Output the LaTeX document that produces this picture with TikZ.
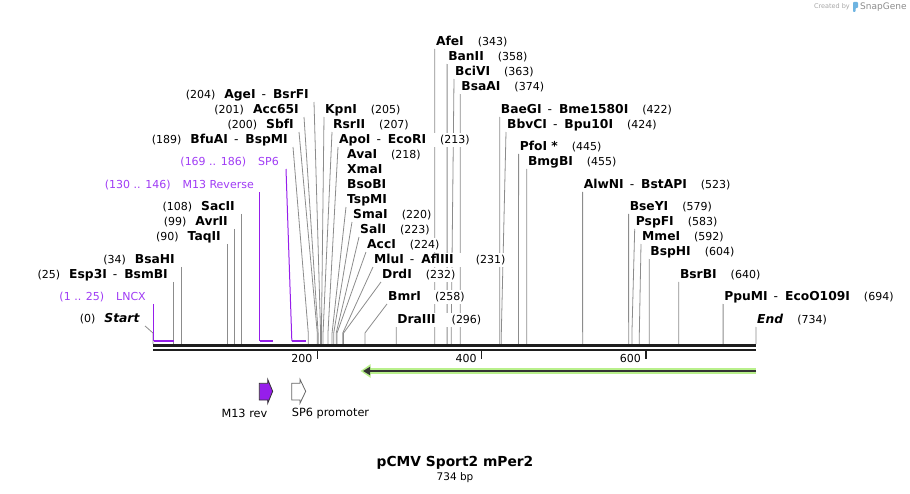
\documentclass[tikz,border=0pt]{standalone}
\usepackage{fontspec}
\setmainfont{DejaVu Sans}
\usetikzlibrary{arrows.meta,backgrounds}

\definecolor{primer}{RGB}{160,60,245}
\definecolor{primerdark}{RGB}{150,30,235}
\definecolor{orfhalo}{RGB}{185,240,140}
\definecolor{spine}{RGB}{30,30,30}
\definecolor{snapblue}{RGB}{110,180,225}

\newcommand{\pos}[1]{{\mdseries\fontsize{11}{12}\selectfont(#1)}}
\newcommand{\alt}{\hspace{6pt}{\mdseries-}\hspace{7pt}}
\newcommand{\site}[2]{%
  \coordinate (#1) at ({153+0.8215*#2},344);
  \coordinate (#1k) at ({153+0.8215*#2},333);}
\newcommand{\psite}[2]{\coordinate (#1) at ({153+0.8215*#2},341);}

\tikzset{
  enz/.style={
    font=\fontsize{12.3}{13}\selectfont\bfseries,
    fill=white,
    inner ysep=1pt,
    text height=9pt,
    text depth=2.5pt
  },
  lft/.style={enz, anchor=east, inner xsep=5pt},
  rgt/.style={enz, anchor=west, inner xsep=1pt},
  plbl/.style={
    lft,
    font=\fontsize{11}{13}\selectfont,
    text=primer,
    inner xsep=7pt
  },
  cut/.style={draw=black!45, line width=0.8pt},
  primerline/.style={draw=primerdark, line width=1pt},
  primerbar/.style={draw=primerdark, line width=2pt},
  spine/.style={draw=spine, line width=2.5pt},
  tick/.style={draw=spine, line width=1.5pt},
  scalelbl/.style={anchor=east, font=\fontsize{11}{13}\selectfont, inner sep=1pt},
  featlbl/.style={font=\fontsize{11.3}{13}\selectfont, inner sep=1pt},
  orf/.style={draw=orfhalo, line width=6pt, -{Triangle[length=10pt,width=13pt]}},
  orfcore/.style={draw=black!80, line width=2.2pt, -{Triangle[length=7pt,width=8pt]}}
}

\begin{document}
\begin{tikzpicture}[x=1pt,y=-1pt]
  \useasboundingbox (0,0) rectangle (910,494);

  % cut sites on the backbone
  \site{s0}{0}     \site{s25}{25}   \site{s34}{34}   \site{s90}{90}
  \site{s99}{99}   \site{s108}{108} \site{s189}{189} \site{s200}{200}
  \site{s201}{201} \site{s204}{204} \site{s205}{205} \site{s207}{207}
  \site{s213}{213} \site{s218}{218} \site{s220}{220} \site{s223}{223}
  \site{s224}{224} \site{s231}{231} \site{s232}{232} \site{s258}{258}
  \site{s296}{296} \site{s343}{343} \site{s358}{358} \site{s363}{363}
  \site{s374}{374} \site{s422}{422} \site{s424}{424} \site{s445}{445}
  \site{s455}{455} \site{s523}{523} \site{s579}{579} \site{s583}{583}
  \site{s592}{592} \site{s604}{604} \site{s640}{640} \site{s694}{694}
  \site{s734}{734}

  % primer ends
  \psite{p1}{1}     \psite{p25}{25}
  \psite{p130}{130} \psite{p146}{146}
  \psite{p169}{169} \psite{p186}{186}

  % labels left of their lines
  \node[lft] (agei)   at (314,95)  {\pos{204}\hspace{9pt}AgeI\alt BsrFI};
  \node[lft] (acc65i) at (304,110) {\pos{201}\hspace{9pt}Acc65I};
  \node[lft] (sbfi)   at (299,125) {\pos{200}\hspace{9pt}SbfI};
  \node[lft] (bfuai)  at (293,140) {\pos{189}\hspace{9pt}BfuAI\alt BspMI};
  \node[lft] (sacii)  at (240,207) {\pos{108}\hspace{9pt}SacII};
  \node[lft] (avrii)  at (233,222) {\pos{99}\hspace{9pt}AvrII};
  \node[lft] (taqii)  at (226,237) {\pos{90}\hspace{9pt}TaqII};
  \node[lft] (bsahi)  at (180,260) {\pos{34}\hspace{9pt}BsaHI};
  \node[lft] (esp3i)  at (173,275) {\pos{25}\hspace{9pt}Esp3I\alt BsmBI};
  \node[lft] (start)  at (145,319) {\pos{0}\hspace{9pt}\textit{Start}};

  % primers
  \node[plbl] (sp6)  at (286,162) {(169 .. 186)\hspace{12pt}SP6};
  \node[plbl] (m13r) at (261,185) {(130 .. 146)\hspace{12pt}M13 Reverse};
  \node[plbl] (lncx) at (153,297) {(1 .. 25)\hspace{12pt}LNCX};

  % labels right of their lines
  \node[rgt] (kpni)   at (324,110)   {KpnI\hspace{14pt}\pos{205}};
  \node[rgt] (rsrii)  at (332,125)   {RsrII\hspace{14pt}\pos{207}};
  \node[rgt] (apoi)   at (338,140)   {ApoI\alt EcoRI\hspace{14pt}\pos{213}};
  \node[rgt] (avai)   at (346,155)   {AvaI\hspace{14pt}\pos{218}};
  \node[rgt] (xmai)   at (346,170)   {XmaI};
  \node[rgt] (bsobi)  at (346,185)   {BsoBI};
  \node[rgt] (tspmi)  at (346,200)   {TspMI};
  \node[rgt] (smai)   at (352,215)   {SmaI\hspace{14pt}\pos{220}};
  \node[rgt] (sali)   at (359,230)   {SalI\hspace{14pt}\pos{223}};
  \node[rgt] (acci)   at (366,245)   {AccI\hspace{14pt}\pos{224}};
  \node[rgt] (mlui)   at (373,260)   {MluI\alt AflIII\hspace{22pt}\pos{231}};
  \node[rgt] (drdi)   at (381,275)   {DrdI\hspace{14pt}\pos{232}};
  \node[rgt] (bmri)   at (387,297)   {BmrI\hspace{14pt}\pos{258}};
  \node[rgt] (draiii) at (396.2,320) {DraIII\hspace{16pt}\pos{296}};
  \node[rgt] (afei)   at (434.8,42)  {AfeI\hspace{14pt}\pos{343}};
  \node[rgt] (banii)  at (447.1,57)  {BanII\hspace{14pt}\pos{358}};
  \node[rgt] (bcivi)  at (454,72)    {BciVI\hspace{14pt}\pos{363}};
  \node[rgt] (bsaai)  at (460.2,87)  {BsaAI\hspace{14pt}\pos{374}};
  \node[rgt] (baegi)  at (499.7,110) {BaeGI\alt Bme1580I\hspace{14pt}\pos{422}};
  \node[rgt] (bbvci)  at (506,125)   {BbvCI\alt Bpu10I\hspace{14pt}\pos{424}};
  \node[rgt] (pfoi)   at (518.6,147) {PfoI *\hspace{14pt}\pos{445}};
  \node[rgt] (bmgbi)  at (526.8,162) {BmgBI\hspace{14pt}\pos{455}};
  \node[rgt] (alwni)  at (582.6,185) {AlwNI\alt BstAPI\hspace{14pt}\pos{523}};
  \node[rgt] (bseyi)  at (628.6,207) {BseYI\hspace{14pt}\pos{579}};
  \node[rgt] (pspfi)  at (634.7,222) {PspFI\hspace{14pt}\pos{583}};
  \node[rgt] (mmei)   at (641,237)   {MmeI\hspace{14pt}\pos{592}};
  \node[rgt] (bsphi)  at (649.2,252) {BspHI\hspace{14pt}\pos{604}};
  \node[rgt] (bsrbi)  at (678.8,275) {BsrBI\hspace{14pt}\pos{640}};
  \node[rgt] (ppumi)  at (723.1,297) {PpuMI\alt EcoO109I\hspace{14pt}\pos{694}};
  \node[rgt] (endl)   at (756,320)   {\textit{End}\hspace{14pt}\pos{734}};

  % lines from labels to sites
  \begin{scope}[on background layer]
    \draw[cut] (agei.south east) -- (s204k) -- (s204);
    \draw[cut] (acc65i.south east) -- (s201k) -- (s201);
    \draw[cut] (sbfi.south east) -- (s200k) -- (s200);
    \draw[cut] (bfuai.south east) -- (s189k) -- (s189);
    \draw[cut] (s108 |- sacii.south east) -- (s108);
    \draw[cut] (s99 |- avrii.south east) -- (s99);
    \draw[cut] (s90 |- taqii.south east) -- (s90);
    \draw[cut] (s34 |- bsahi.south east) -- (s34);
    \draw[cut] (s25 |- esp3i.south east) -- (s25);
    \draw[cut] (start.south east) -- (s0k) -- (s0);
    \draw[cut] (kpni.south west) -- (s205k) -- (s205);
    \draw[cut] (rsrii.south west) -- (s207k) -- (s207);
    \draw[cut] (apoi.south west) -- (s213k) -- (s213);
    \draw[cut] (tspmi.south west) -- (s218k) -- (s218);
    \draw[cut] (smai.south west) -- (s220k) -- (s220);
    \draw[cut] (sali.south west) -- (s223k) -- (s223);
    \draw[cut] (acci.south west) -- (s224k) -- (s224);
    \draw[cut] (mlui.south west) -- (s231k) -- (s231);
    \draw[cut] (drdi.south west) -- (s232k) -- (s232);
    \draw[cut] (bmri.south west) -- (s258k) -- (s258);
    \draw[cut] (draiii.south west) -- (s296);
    \draw[cut] (afei.south west) -- (s343);
    \draw[cut] (banii.south west) -- (s358);
    \draw[cut] (bcivi.south west) -- (s363k) -- (s363);
    \draw[cut] (bsaai.south west) -- (s374);
    \draw[cut] (baegi.south west) -- (s422);
    \draw[cut] (bbvci.south west) -- (s424k) -- (s424);
    \draw[cut] (pfoi.south west) -- (s445);
    \draw[cut] (bmgbi.south west) -- (s455);
    \draw[cut] (alwni.south west) -- (s523);
    \draw[cut] (bseyi.south west) -- (s579);
    \draw[cut] (pspfi.south west) -- (s583k) -- (s583);
    \draw[cut] (mmei.south west) -- (s592k) -- (s592);
    \draw[cut] (bsphi.south west) -- (s604);
    \draw[cut] (bsrbi.south west) -- (s640);
    \draw[cut] (ppumi.south west) -- (s694);
    \draw[cut] (endl.south west) -- (s734);
    % primers
    \draw[primerline] (p1 |- lncx.south east) -- (p1);
    \draw[primerline] (p130 |- m13r.south east) -- (p130);
    \draw[primerline] (sp6.south east) -- (p169);
  \end{scope}
  \draw[primerbar] (p1) -- (p25);
  \draw[primerbar] (p130) -- (p146);
  \draw[primerbar] (p169) -- (p186);

  % backbone
  \coordinate (left) at (153,345.3);
  \coordinate (right) at (756,345.3);
  \draw[spine] (left) -- (right);
  \draw[spine] ([yshift=-4.5pt]left) -- ([yshift=-4.5pt]right);

  % ruler
  \coordinate (t200) at (317.3,351);
  \coordinate (t400) at (481.6,351);
  \coordinate (t600) at (645.9,351);
  \draw[tick] (t200) -- ++(0,8);
  \draw[tick] (t400) -- ++(0,8);
  \draw[tick] (t600) -- ++(0,8);
  \node[scalelbl] (l200) at (313.5,358) {200};
  \node[scalelbl] (l400) at (477.8,358) {400};
  \node[scalelbl] (l600) at (642.1,358) {600};

  % reading frame
  \coordinate (orfa) at (756,371);
  \coordinate (orfb) at (360.5,371);
  \coordinate (orfc) at (363,371);
  \draw[orf] (orfa) -- (orfb);
  \draw[orfcore] (orfa) -- (orfc);

  % features
  \draw[draw=black!80, fill=primerdark, line width=0.8pt]
    (259.3,383.3) -- (267.7,383.3) -- (267.7,379.3) -- (272.7,391.3)
    -- (267.7,403.3) -- (267.7,400) -- (259.3,400) -- cycle;
  \draw[draw=black!60, fill=white, line width=0.8pt]
    (291.7,383.3) -- (300,383.3) -- (300,379.3) -- (305.7,391.3)
    -- (300,403.3) -- (300,400) -- (291.7,400) -- cycle;
  \node[featlbl, anchor=east] (m13rev) at (268.5,413) {M13 rev};
  \node[featlbl, anchor=west] (sp6prom) at (290.7,413) {SP6 promoter};

  % title
  \node[font=\fontsize{13.8}{15}\selectfont\bfseries] (title) at (455,463) {pCMV Sport2 mPer2};
  \node[font=\fontsize{10.5}{12}\selectfont, inner sep=1pt] (size) at (455,478) {734 bp};

  % watermark
  \node[font=\fontsize{6.5}{7}\selectfont, text=black!35, anchor=east, inner sep=0pt] (made) at (850,7) {Created by};
  \fill[snapblue, rounded corners=0.8pt] (853,2) -- (858,2) -- (858,8) -- (855.5,8) -- (855.5,12) -- (853,12) -- cycle;
  \node[font=\fontsize{9}{10}\selectfont, text=black!45, anchor=west, inner sep=0pt] (snap) at (860,7) {SnapGene};
\end{tikzpicture}
\end{document}
